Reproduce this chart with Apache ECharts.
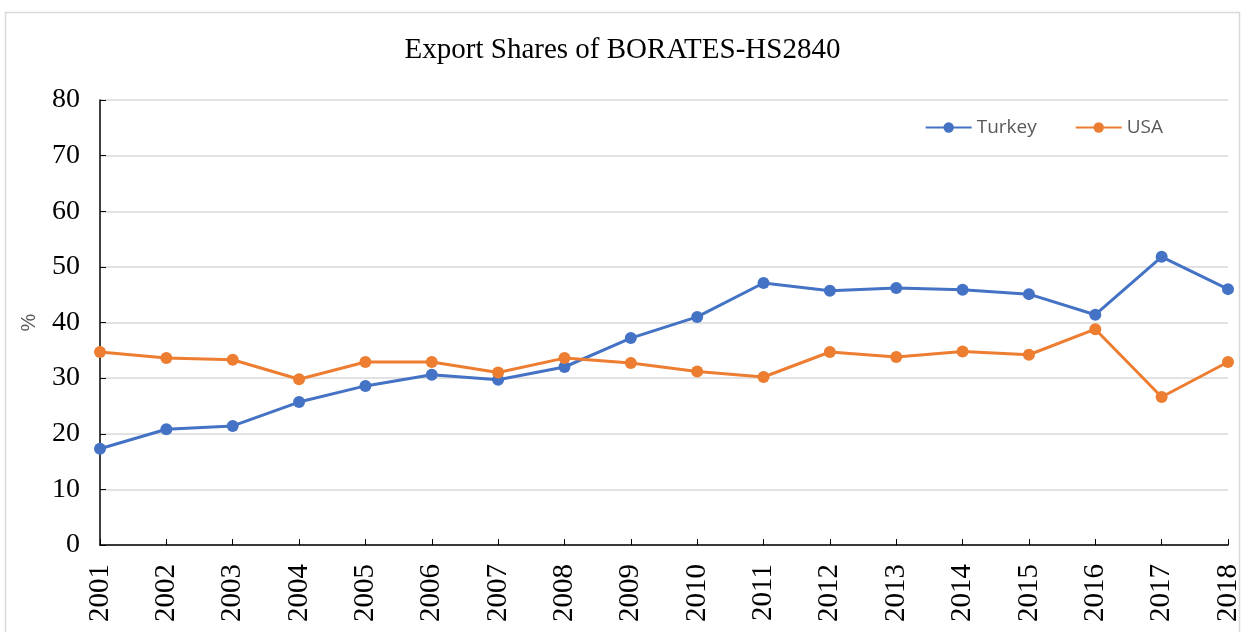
<!DOCTYPE html>
<html>
<head>
<meta charset="utf-8">
<script src="https://cdn.jsdelivr.net/npm/echarts@6/dist/echarts.min.js"></script>
<style>
html,body{margin:0;padding:0;background:#fff;}
#chart{width:1245px;height:632px;}
</style>
</head>
<body>
<div id="chart"></div>
<script>
const years = ['2001','2002','2003','2004','2005','2006','2007','2008','2009','2010','2011','2012','2013','2014','2015','2016','2017','2018'];
const turkey = [17.3, 20.8, 21.4, 25.7, 28.6, 30.6, 29.7, 32.0, 37.2, 41.0, 47.1, 45.7, 46.2, 45.9, 45.1, 41.4, 51.8, 46.0];
const usa = [34.7, 33.6, 33.3, 29.8, 32.9, 32.9, 31.0, 33.6, 32.7, 31.2, 30.2, 34.7, 33.8, 34.8, 34.2, 38.8, 26.6, 32.9];
const titleText = 'Export Shares of BORATES-HS2840';

const chart = echarts.init(document.getElementById('chart'), null, {renderer: 'canvas'});
const serif = '"Liberation Serif", "Times New Roman", serif';
chart.setOption({
  animation: false,
  backgroundColor: '#fff',
  graphic: [{
    type: 'rect',
    shape: {x: 5.5, y: 12.5, width: 1234, height: 640},
    style: {fill: 'none', stroke: '#d9d9d9', lineWidth: 1.5},
    silent: true, z: -1
  }],
  title: {
    text: titleText,
    left: 'center',
    top: 31,
    textStyle: {fontFamily: serif, fontSize: 29, fontWeight: 'normal', color: '#000'}
  },
  legend: {
    data: ['Turkey', 'USA'],
    right: 77,
    top: 113,
    itemWidth: 46,
    itemHeight: 13,
    itemGap: 38,
    textStyle: {fontFamily: '"Open Sans", "Liberation Sans", sans-serif', fontSize: 19, color: '#595959'}
  },
  grid: {left: 100, right: 17, top: 100, bottom: 87, containLabel: false},
  xAxis: {
    type: 'category',
    data: years,
    boundaryGap: false,
    axisLine: {lineStyle: {color: '#000', width: 1.5}},
    axisTick: {show: true, inside: true, length: 6, alignWithLabel: true, lineStyle: {color: '#000'}},
    axisLabel: {rotate: 90, fontFamily: serif, fontSize: 29, color: '#000', margin: 19}
  },
  yAxis: {
    type: 'value',
    min: 0, max: 80, interval: 10,
    name: '%',
    nameLocation: 'middle',
    nameRotate: 90,
    nameGap: 61,
    nameTextStyle: {fontFamily: '"Liberation Sans", sans-serif', fontSize: 20, color: '#595959'},
    axisLine: {show: true, lineStyle: {color: '#000', width: 1.5}},
    axisTick: {show: true, inside: true, length: 6, lineStyle: {color: '#000'}},
    axisLabel: {fontFamily: serif, fontSize: 28, color: '#000', margin: 20},
    splitLine: {lineStyle: {color: '#d9d9d9', width: 1.5}}
  },
  series: [
    {
      name: 'Turkey', type: 'line', data: turkey,
      symbol: 'circle', symbolSize: 12,
      itemStyle: {color: '#4472C4'},
      lineStyle: {color: '#4472C4', width: 3}
    },
    {
      name: 'USA', type: 'line', data: usa,
      symbol: 'circle', symbolSize: 12,
      itemStyle: {color: '#ED7D31'},
      lineStyle: {color: '#ED7D31', width: 3}
    }
  ]
});
</script>
</body>
</html>
